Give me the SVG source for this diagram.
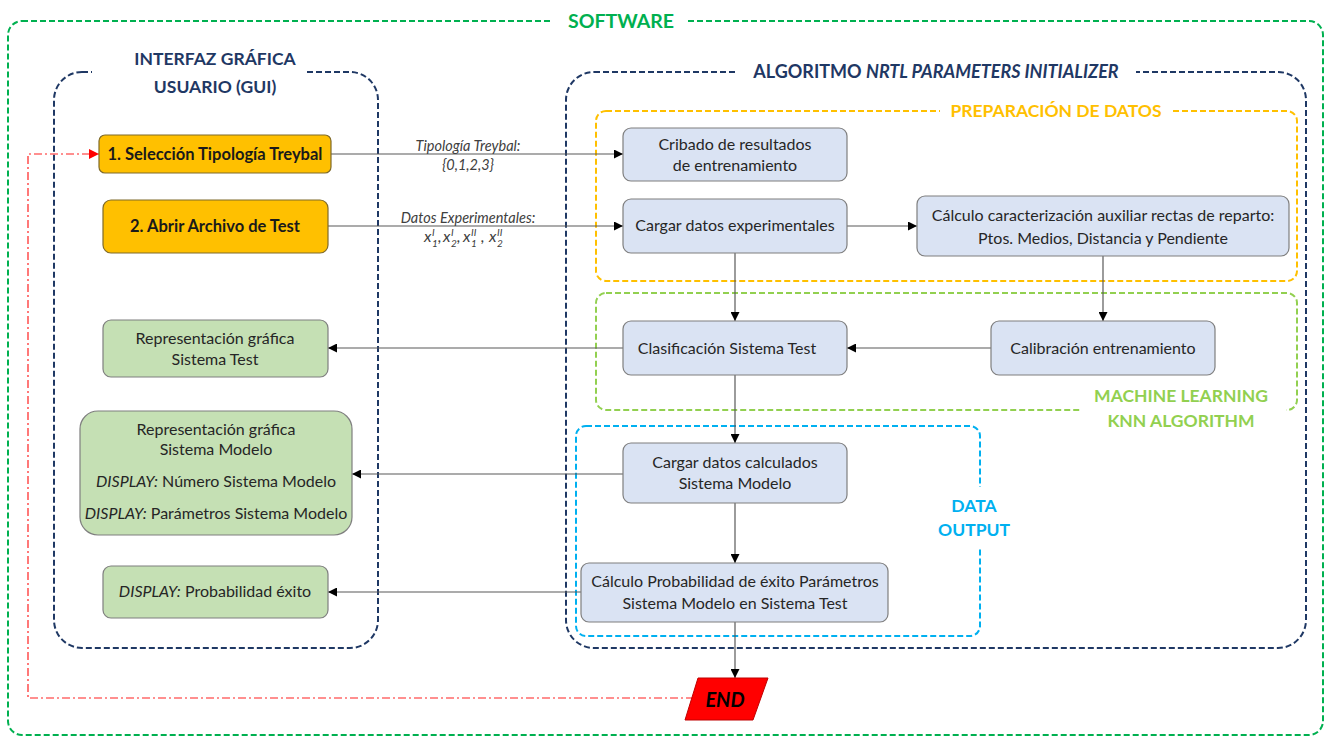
<svg xmlns="http://www.w3.org/2000/svg" width="1328" height="740" viewBox="0 0 1328 740">
<defs>
<marker id="arr" markerUnits="userSpaceOnUse" markerWidth="9" markerHeight="9" refX="9" refY="4.5" orient="auto"><path d="M0,0 L9,4.5 L0,9 z" fill="#000"/></marker>
<marker id="arrR" markerUnits="userSpaceOnUse" markerWidth="10" markerHeight="10" refX="10" refY="5" orient="auto"><path d="M0,0 L10,5 L0,10 z" fill="#FF0000"/></marker>
<style>
text{font-family:Lato,"Liberation Sans",sans-serif;}
.frame{fill:none;stroke-width:2;stroke-dasharray:6,3;}
.t{font-size:16px;fill:#262626;text-anchor:middle;}
.tb{font-size:16.5px;font-weight:bold;fill:#1a1a1a;text-anchor:middle;}
.title{font-weight:bold;text-anchor:middle;font-size:17.5px;}
.blue{fill:#DAE3F3;stroke:#7F7F7F;stroke-width:1.2;}
.green{fill:#C5E0B4;stroke:#7F7F7F;stroke-width:1.2;}
.orange{fill:#FFC000;stroke:#7F6A2A;stroke-width:1.2;}
.conn{fill:none;stroke:#595959;stroke-width:1.2;}
.lbl{font-size:14.5px;font-style:italic;fill:#404040;text-anchor:middle;}
.m{font-family:"Liberation Serif","DejaVu Serif",serif;font-style:italic;fill:#404040;}
</style>
</defs>
<rect width="1328" height="740" fill="#fff"/>

<g id="frames">
<rect class="frame" x="8" y="21" width="1315" height="714" rx="14" stroke="#00B050"/>
<rect x="552" y="8" width="136" height="26" fill="#fff"/>
<text class="title" x="621" y="28" style="font-size:19.5px" fill="#00B050">SOFTWARE</text>

<rect class="frame" x="54" y="72" width="324" height="576" rx="28" stroke="#1F3864"/>
<rect x="92" y="42" width="214" height="62" fill="#fff"/>
<text class="title" x="215" y="65" fill="#1F3864">INTERFAZ GRÁFICA</text>
<text class="title" x="215" y="93" fill="#1F3864">USUARIO (GUI)</text>

<rect class="frame" x="566" y="72" width="740" height="576" rx="28" stroke="#1F3864"/>
<rect x="738" y="58" width="398" height="28" fill="#fff"/>
<text class="title" x="936" y="78" style="font-size:18px" fill="#1F3864">ALGORITMO <tspan font-style="italic">NRTL PARAMETERS INITIALIZER</tspan></text>

<rect class="frame" x="596" y="111" width="701" height="170" rx="10" stroke="#FFC000"/>
<rect x="940" y="98" width="232" height="28" fill="#fff"/>
<text class="title" x="1056" y="117" fill="#FFC000">PREPARACIÓN DE DATOS</text>

<rect class="frame" x="596" y="293" width="701" height="117" rx="10" stroke="#92D050"/>
<rect x="1080" y="378" width="206" height="62" fill="#fff"/>
<text class="title" x="1181" y="402" fill="#92D050">MACHINE LEARNING</text>
<text class="title" x="1181" y="427" fill="#92D050">KNN ALGORITHM</text>

<rect class="frame" x="576" y="426" width="404" height="210" rx="10" stroke="#00B0F0"/>
<rect x="876" y="487" width="142" height="60" fill="#fff"/>
<text class="title" x="974" y="512" fill="#00B0F0">DATA</text>
<text class="title" x="974" y="536" fill="#00B0F0">OUTPUT</text>
</g>

<g id="connectors">
<path class="conn" d="M331,154 H623" marker-end="url(#arr)"/>
<path class="conn" d="M328,226 H623" marker-end="url(#arr)"/>
<path class="conn" d="M847,226 H917" marker-end="url(#arr)"/>
<path class="conn" d="M735,253 V321" marker-end="url(#arr)"/>
<path class="conn" d="M1103,256 V321" marker-end="url(#arr)"/>
<path class="conn" d="M991,348 H847" marker-end="url(#arr)"/>
<path class="conn" d="M623,348 H328" marker-end="url(#arr)"/>
<path class="conn" d="M735,375 V443" marker-end="url(#arr)"/>
<path class="conn" d="M623,474 H352" marker-end="url(#arr)"/>
<path class="conn" d="M735,503 V563" marker-end="url(#arr)"/>
<path class="conn" d="M581,592 H328" marker-end="url(#arr)"/>
<path class="conn" d="M735,622 V678" marker-end="url(#arr)"/>
<path d="M694,698 H28 V154 H99" fill="none" stroke="#FF2020" stroke-width="1.2" stroke-dasharray="8,3,2,3" marker-end="url(#arrR)"/>
<text class="lbl" x="468" y="151">Tipología Treybal:</text>
<text class="lbl" x="468" y="170">{0,1,2,3}</text>
<text class="lbl" x="468" y="223">Datos Experimentales:</text>
<g class="m">
<text x="424" y="242" font-size="16">x</text><text x="432" y="236" font-size="10">I</text><text x="432" y="247" font-size="10">1</text><text x="438" y="242" font-size="16">,</text>
<text x="443" y="242" font-size="16">x</text><text x="451" y="236" font-size="10">I</text><text x="451" y="247" font-size="10">2</text><text x="457" y="242" font-size="16">,</text>
<text x="463" y="242" font-size="16">x</text><text x="471" y="236" font-size="10">II</text><text x="471" y="247" font-size="10">1</text><text x="481" y="242" font-size="16">,</text>
<text x="489" y="242" font-size="16">x</text><text x="497" y="236" font-size="10">II</text><text x="497" y="247" font-size="10">2</text>
</g>
</g>

<g id="n1"><rect class="orange" x="99" y="135" width="232" height="38" rx="6"/><text class="tb" x="215" y="160">1. Selección Tipología  Treybal</text></g>
<g id="n2"><rect class="orange" x="103" y="200" width="225" height="53" rx="8"/><text class="tb" x="215" y="232">2. Abrir Archivo de  Test</text></g>
<g id="g1"><rect class="green" x="103" y="320" width="225" height="57" rx="8"/><text class="t" x="215" y="344">Representación gráfica</text><text class="t" x="215" y="365">Sistema Test</text></g>
<g id="g2"><rect class="green" x="80" y="411" width="272" height="124" rx="18"/>
<text class="t" x="216" y="435">Representación gráfica</text>
<text class="t" x="216" y="455">Sistema Modelo</text>
<text class="t" x="216" y="487"><tspan font-style="italic">DISPLAY:</tspan> Número Sistema Modelo</text>
<text class="t" x="216" y="519"><tspan font-style="italic">DISPLAY:</tspan> Parámetros Sistema Modelo</text></g>
<g id="g3"><rect class="green" x="103" y="566" width="225" height="52" rx="8"/><text class="t" x="215" y="597"><tspan font-style="italic">DISPLAY:</tspan> Probabilidad éxito</text></g>

<g id="b1"><rect class="blue" x="623" y="128" width="224" height="53" rx="8"/><text class="t" x="735" y="150">Cribado de resultados</text><text class="t" x="735" y="171">de entrenamiento</text></g>
<g id="b2"><rect class="blue" x="623" y="199" width="224" height="54" rx="8"/><text class="t" x="735" y="231">Cargar datos experimentales</text></g>
<g id="b3"><rect class="blue" x="917" y="196" width="372" height="60" rx="8"/><text class="t" x="1103" y="221">Cálculo caracterización auxiliar rectas de reparto:</text><text class="t" x="1103" y="244">Ptos. Medios, Distancia y Pendiente</text></g>
<g id="b4"><rect class="blue" x="623" y="321" width="224" height="54" rx="8"/><text class="t" x="727" y="354">Clasificación Sistema Test</text></g>
<g id="b5"><rect class="blue" x="991" y="321" width="224" height="54" rx="8"/><text class="t" x="1103" y="354">Calibración entrenamiento</text></g>
<g id="b6"><rect class="blue" x="623" y="443" width="224" height="60" rx="8"/><text class="t" x="735" y="468">Cargar datos calculados</text><text class="t" x="735" y="489">Sistema Modelo</text></g>
<g id="b7"><rect class="blue" x="581" y="563" width="307" height="59" rx="8"/><text class="t" x="735" y="587">Cálculo Probabilidad de éxito Parámetros</text><text class="t" x="735" y="609">Sistema Modelo en Sistema Test</text></g>
<g id="end"><polygon points="698,678 768,678 753,720 685,720" fill="#FF0000" stroke="#C00000" stroke-width="1"/><text x="725" y="707" font-size="20" font-weight="bold" font-style="italic" fill="#000" text-anchor="middle">END</text></g>
</svg>
